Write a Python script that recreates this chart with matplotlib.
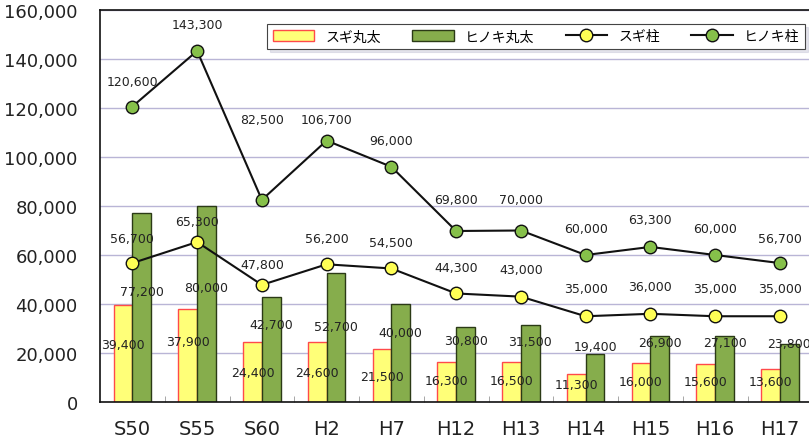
import numpy as np
import matplotlib
matplotlib.use("Agg")
import matplotlib.pyplot as plt
from matplotlib.ticker import FuncFormatter, MultipleLocator, FixedLocator

plt.rcParams["font.family"] = ["Noto Sans CJK JP", "DejaVu Sans"]

categories = ["S50", "S55", "S60", "H2", "H7", "H12", "H13", "H14", "H15", "H16", "H17"]
sugi_maruta = [39400, 37900, 24400, 24600, 21500, 16300, 16500, 11300, 16000, 15600, 13600]
hinoki_maruta = [77200, 80000, 42700, 52700, 40000, 30800, 31500, 19400, 26900, 27100, 23800]
sugi_hashira = [56700, 65300, 47800, 56200, 54500, 44300, 43000, 35000, 36000, 35000, 35000]
hinoki_hashira = [120600, 143300, 82500, 106700, 96000, 69800, 70000, 60000, 63300, 60000, 56700]

# where the value labels sit (bar labels in data units, line labels as pixel offsets)
sugi_maruta_label_y = [23300, 24500, 12200, 12200, 10600, 8600, 8600, 7300, 8200, 8200, 8200]
hinoki_maruta_label_y = [44900, 46900, 31800, 31000, 28200, 24900, 24500, 22800, 24100, 24100, 23700]
sugi_hashira_label_dy = [25, 21, 20, 26, 26, 26, 27, 28, 27, 28, 28]
hinoki_hashira_label_dy = [25, 26, 80, 21, 26, 31, 31, 26, 27, 26, 25]

fig = plt.figure(figsize=(8.09, 4.39), dpi=100)
ax = fig.add_axes([100 / 809, 1 - 403 / 439, 715.5 / 809, 392 / 439])

x = np.arange(len(categories))
w = 0.29

b1 = ax.bar(x - w / 2, sugi_maruta, w, color="#ffff78", edgecolor="#ff4a4a", linewidth=1.0,
            label="スギ丸太", zorder=2)
b2 = ax.bar(x + w / 2, hinoki_maruta, w, color="#86ad4c", edgecolor="#2b3a16", linewidth=1.0,
            label="ヒノキ丸太", zorder=2)
l1, = ax.plot(x, sugi_hashira, color="#111111", linewidth=1.5, marker="o", markersize=9,
              markerfacecolor="#ffff55", markeredgecolor="#111111", markeredgewidth=1.0,
              label="スギ柱", zorder=3)
l2, = ax.plot(x, hinoki_hashira, color="#111111", linewidth=1.5, marker="o", markersize=9,
              markerfacecolor="#86c04a", markeredgecolor="#111111", markeredgewidth=1.0,
              label="ヒノキ柱", zorder=3)

lab = dict(fontsize=9, family="DejaVu Sans", color="#222222", ha="center", va="center", zorder=5)
for i in range(len(categories)):
    ax.text(x[i] - w / 2, sugi_maruta_label_y[i], f"{sugi_maruta[i]:,}", **lab)
    ax.text(x[i] + w / 2, hinoki_maruta_label_y[i], f"{hinoki_maruta[i]:,}", **lab)
    ax.annotate(f"{sugi_hashira[i]:,}", (x[i], sugi_hashira[i]), xytext=(0, sugi_hashira_label_dy[i]),
                textcoords="offset pixels", **lab)
    ax.annotate(f"{hinoki_hashira[i]:,}", (x[i], hinoki_hashira[i]), xytext=(0, hinoki_hashira_label_dy[i]),
                textcoords="offset pixels", **lab)

ax.set_xlim(-0.5, len(categories) - 0.5 + 0.05)
ax.set_ylim(0, 160000)
ax.yaxis.set_major_locator(MultipleLocator(20000))
ax.yaxis.set_major_formatter(FuncFormatter(lambda v, p: f"{int(v):,}"))
ax.grid(axis="y", color="#b9b5d6", linewidth=1.0, zorder=0)
ax.set_axisbelow(True)

ax.set_xticks(x)
ax.set_xticklabels(categories)
ax.xaxis.set_minor_locator(FixedLocator(np.arange(len(categories) - 1) + 0.5))
ax.tick_params(axis="x", which="major", length=0, pad=12, labelsize=14, labelcolor="#222222")
ax.tick_params(axis="x", which="minor", direction="in", length=4, color="#999999")
ax.tick_params(axis="y", length=0, pad=16, labelsize=13, labelcolor="#222222")
for lbl in ax.get_xticklabels() + ax.get_yticklabels():
    lbl.set_family("DejaVu Sans")

for s in ["left", "bottom", "top"]:
    ax.spines[s].set_color("#111111")
    ax.spines[s].set_linewidth(1.2)
ax.spines["right"].set_visible(False)

leg = fig.legend([b1, b2, l1, l2], ["スギ丸太", "ヒノキ丸太", "スギ柱", "ヒノキ柱"],
                 loc="lower left", bbox_to_anchor=(267 / 809, 1 - 50 / 439, 538 / 809, 31 / 439),
                 mode="expand", ncol=4, fontsize=10, frameon=True, fancybox=False,
                 shadow={"color": "#c9c9d9"}, handlelength=3.0, handleheight=0.8,
                 borderaxespad=0, edgecolor="#444444")
leg.get_frame().set_linewidth(0.8)

fig.savefig("out.png", dpi=100)
